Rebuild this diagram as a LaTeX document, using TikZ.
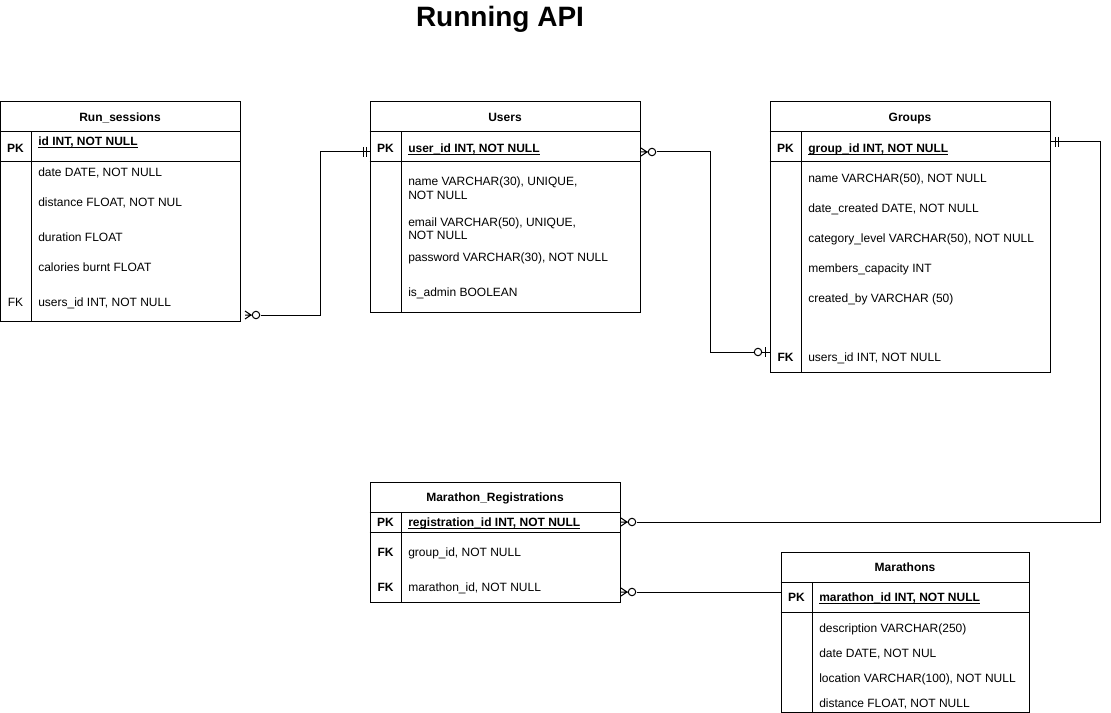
\documentclass[tikz,border=0pt]{standalone}
\usepackage{fontspec}
\setmainfont{Liberation Sans}
\usetikzlibrary{fit}
\newcommand\myul[1]{\setbox0\hbox{#1}\rlap{\rule[-1.6pt]{\wd0}{0.6pt}}\box0}
\newcommand\zeromany[1]{\draw[conn] (#1) ++(0,-4) -- ++(6,4) -- ++(-6,4) (#1) -- ++(7.5,0); \draw[conn,fill=white] (#1) ++(11,0) circle[radius=2.8pt];}
\begin{document}
\begin{tikzpicture}[x=0.75pt,y=-0.75pt,
  tbl/.style={draw, line width=0.75pt, inner sep=0pt},
  hdr/.style={font=\bfseries\fontsize{9}{11}\selectfont, anchor=base, inner sep=0pt},
  fld/.style={font=\fontsize{9}{11}\selectfont, anchor=base west, inner sep=0pt},
  keyb/.style={font=\bfseries\fontsize{9}{11}\selectfont, anchor=base, inner sep=0pt},
  keyr/.style={font=\fontsize{9}{11}\selectfont, anchor=base, inner sep=0pt},
  pkf/.style={font=\bfseries\fontsize{9}{11}\selectfont, anchor=base west, inner sep=0pt},
  conn/.style={line width=0.75pt},
  sep/.style={line width=0.75pt}]
\useasboundingbox (0,0) rectangle (1111,713);

\node[font=\bfseries\fontsize{21}{25}\selectfont, anchor=base, inner sep=0pt] (title) at (500,27) {Running API};

% Run_sessions
\node[tbl, fit={(0.5,102) (240,321)}] (rs) {};
\draw[sep] (rs.west |- 0,132) -- (rs.east |- 0,132);
\draw[sep] (rs.west |- 0,162) -- (rs.east |- 0,162);
\draw[sep] (31,132) -- (31,0 |- rs.south);
\node[hdr] (rs-h) at (120,121.3) {Run\_sessions};
\node[keyb] (rs-pk) at (15.5,152.3) {PK};
\node[pkf] (rs-id) at (38,145.3) {\myul{id INT, NOT NULL}};
\node[fld] (rs-date) at (38,176.3) {date DATE, NOT NULL};
\node[fld] (rs-dist) at (38,206.3) {distance FLOAT, NOT NUL};
\node[fld] (rs-dur) at (38,241.3) {duration FLOAT};
\node[fld] (rs-cal) at (38,271.3) {calories burnt FLOAT};
\node[keyr] (rs-fk) at (15.5,306.3) {FK};
\node[fld] (rs-uid) at (38,306.3) {users\_id INT, NOT NULL};

% Users
\node[tbl, fit={(370,102) (640,312)}] (us) {};
\draw[sep] (us.west |- 0,132) -- (us.east |- 0,132);
\draw[sep] (us.west |- 0,162) -- (us.east |- 0,162);
\draw[sep] (401,132) -- (401,0 |- us.south);
\node[hdr] (us-h) at (505,121.3) {Users};
\node[keyb] (us-pk) at (385.5,152.3) {PK};
\node[pkf] (us-id) at (408,152.3) {\myul{user\_id INT, NOT NULL}};
\node[fld] (us-name) at (408,185.3) {name VARCHAR(30), UNIQUE,};
\node[fld] (us-name2) at (408,199.3) {NOT NULL};
\node[fld] (us-email) at (408,226.3) {email VARCHAR(50), UNIQUE,};
\node[fld] (us-email2) at (408,239.3) {NOT NULL};
\node[fld] (us-pw) at (408,261.3) {password VARCHAR(30), NOT NULL};
\node[fld] (us-adm) at (408,296.8) {is\_admin BOOLEAN};

% Groups
\node[tbl, fit={(770,102) (1050,372)}] (gr) {};
\draw[sep] (gr.west |- 0,132) -- (gr.east |- 0,132);
\draw[sep] (gr.west |- 0,162) -- (gr.east |- 0,162);
\draw[sep] (801,132) -- (801,0 |- gr.south);
\node[hdr] (gr-h) at (910,121.3) {Groups};
\node[keyb] (gr-pk) at (785.5,152.3) {PK};
\node[pkf] (gr-id) at (808,152.3) {\myul{group\_id INT, NOT NULL}};
\node[fld] (gr-name) at (808,182.3) {name VARCHAR(50), NOT NULL};
\node[fld] (gr-date) at (808,212.3) {date\_created DATE, NOT NULL};
\node[fld] (gr-cat) at (808,242.3) {category\_level VARCHAR(50), NOT NULL};
\node[fld] (gr-cap) at (808,272.3) {members\_capacity INT};
\node[fld] (gr-by) at (808,302.3) {created\_by VARCHAR (50)};
\node[keyb] (gr-fk) at (785.5,361.3) {FK};
\node[fld] (gr-uid) at (808,361.3) {users\_id INT, NOT NULL};

% Marathon_Registrations
\node[tbl, fit={(370,482) (620,602)}] (mr) {};
\draw[sep] (mr.west |- 0,512) -- (mr.east |- 0,512);
\draw[sep] (mr.west |- 0,532) -- (mr.east |- 0,532);
\draw[sep] (401,512) -- (401,0 |- mr.south);
\node[hdr] (mr-h) at (495,501.3) {Marathon\_Registrations};
\node[keyb] (mr-pk) at (385.5,526.3) {PK};
\node[pkf] (mr-id) at (408,526.3) {\myul{registration\_id INT, NOT NULL}};
\node[keyb] (mr-fk1) at (385.5,556.3) {FK};
\node[fld] (mr-gid) at (408,556.3) {group\_id, NOT NULL};
\node[keyb] (mr-fk2) at (385.5,591.3) {FK};
\node[fld] (mr-mid) at (408,591.3) {marathon\_id, NOT NULL};

% Marathons
\node[tbl, fit={(781,552) (1029.5,712)}] (ma) {};
\draw[sep] (ma.west |- 0,582) -- (ma.east |- 0,582);
\draw[sep] (ma.west |- 0,612) -- (ma.east |- 0,612);
\draw[sep] (812,582) -- (812,0 |- ma.south);
\node[hdr] (ma-h) at (905,571.3) {Marathons};
\node[keyb] (ma-pk) at (796.5,601.3) {PK};
\node[pkf] (ma-id) at (819,601.3) {\myul{marathon\_id INT, NOT NULL}};
\node[fld] (ma-desc) at (819,632.3) {description VARCHAR(250)};
\node[fld] (ma-date) at (819,657.3) {date DATE, NOT NUL};
\node[fld] (ma-loc) at (819,682.3) {location VARCHAR(100), NOT NULL};
\node[fld] (ma-dist) at (819,707.3) {distance FLOAT, NOT NULL};

% Connector 1: Run_sessions -> Users
\draw[conn] (rs.east |- 0,315) ++(20,0) -- (320,315) |- (us.west |- 0,152);
\zeromany{245,315}
\draw[conn] (363,147) -- (363,157) (366.5,147) -- (366.5,157);

% Connector 2: Users -> Groups
\draw[conn] (us.east |- 0,152) ++(16,0) -- (710,152) |- (gr.west |- 0,352);
\zeromany{641,152}
\draw[conn,fill=white] (758,352) circle[radius=2.8pt];
\draw[conn] (765,347) -- (765,357);

% Connector 3: Groups -> Marathon_Registrations
\draw[conn] (gr.east |- 0,142) -- (1100,142) |- ([xshift=12pt]mr.east |- 0,522);
\draw[conn] (1055,137) -- (1055,147) (1058.5,137) -- (1058.5,147);
\zeromany{621,522}

% Connector 4: Marathon_Registrations -> Marathons
\draw[conn] (mr.east |- 0,592) ++(16,0) -- (ma.west |- 0,592);
\zeromany{621,592}
\end{tikzpicture}
\end{document}
